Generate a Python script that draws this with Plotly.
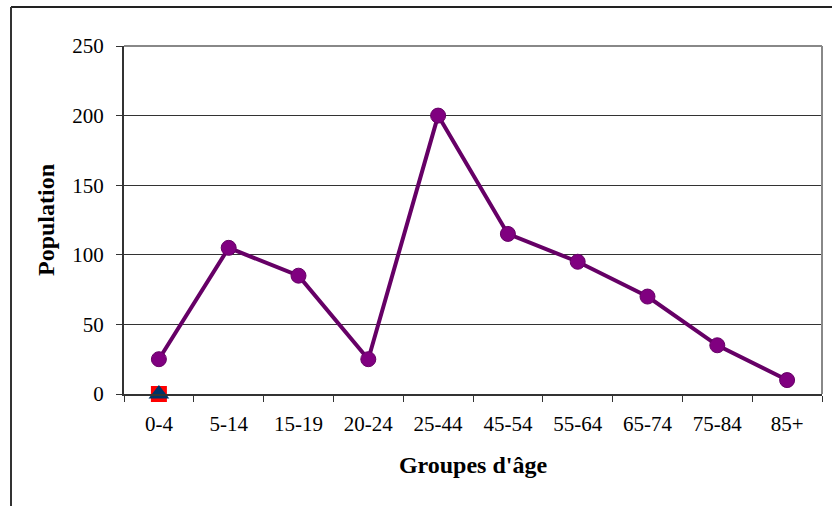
import plotly.graph_objects as go

# Age groups and population counts
groupes = ["0-4", "5-14", "15-19", "20-24", "25-44", "45-54", "55-64", "65-74", "75-84", "85+"]
population = [25, 105, 85, 25, 200, 115, 95, 70, 35, 10]
# Two secondary series, only plotted at the first group
serie_b = [0]
serie_c = [0]

W, H = 832, 506
L, R, T, B = 124, 10, 46, 112
pw, ph = W - L - R, H - T - B

serif = "Liberation Serif, Times New Roman, serif"

fig = go.Figure()
fig.add_trace(go.Scatter(
    x=groupes, y=population, mode="lines+markers",
    line=dict(color="#660066", width=4),
    marker=dict(symbol="circle", size=15, color="#800080",
                line=dict(color="#660066", width=1)),
    cliponaxis=False, showlegend=False,
))
fig.add_trace(go.Scatter(
    x=groupes[:1], y=serie_b, mode="markers",
    marker=dict(symbol="square", size=16, color="#ff0000"),
    cliponaxis=False, showlegend=False,
))
fig.add_trace(go.Scatter(
    x=groupes[:1], y=serie_c, mode="markers",
    marker=dict(symbol="triangle-up", size=18, color="#003366"),
    cliponaxis=False, showlegend=False,
))

def px_x(x):
    return (x - L) / pw

def px_y(y):
    return (H - B - y) / ph

shapes = [
    # outer chart frame (top and left edges visible)
    dict(type="line", xref="paper", yref="paper",
         x0=px_x(11), x1=px_x(840), y0=px_y(7), y1=px_y(7),
         line=dict(color="#222222", width=2)),
    dict(type="line", xref="paper", yref="paper",
         x0=px_x(11), x1=px_x(11), y0=px_y(7), y1=px_y(520),
         line=dict(color="#333333", width=2)),
    # plot area border, top and right
    dict(type="line", xref="paper", yref="paper",
         x0=0, x1=1, y0=1, y1=1, line=dict(color="#888888", width=2)),
    dict(type="line", xref="paper", yref="paper",
         x0=1, x1=1, y0=0, y1=1, line=dict(color="#888888", width=2)),
]

fig.update_layout(
    width=W, height=H,
    margin=dict(l=L, r=R, t=T, b=B, pad=0),
    paper_bgcolor="white", plot_bgcolor="white",
    font=dict(family=serif, size=22, color="black"),
    shapes=shapes,
    xaxis=dict(
        type="category", range=[-0.5, 9.5],
        showgrid=False, showline=True, linecolor="#333333", linewidth=2,
        ticks="outside", tickson="boundaries", ticklen=6, tickcolor="#333333",
        tickfont=dict(family=serif, size=21),
        ticklabelstandoff=10,
        title=dict(text="<b>Groupes d'âge</b>", font=dict(family=serif, size=24), standoff=21),
        zeroline=False,
    ),
    yaxis=dict(
        range=[0, 250], dtick=50, tick0=0,
        showgrid=True, gridcolor="#333333", gridwidth=1,
        showline=True, linecolor="#333333", linewidth=2,
        ticks="outside", ticklen=6, tickcolor="#333333",
        tickfont=dict(family=serif, size=21),
        ticklabelstandoff=8,
        title=dict(text="<b>Population</b>", font=dict(family=serif, size=24), standoff=11),
        zeroline=False,
    ),
)

fig.write_html("out.html")
